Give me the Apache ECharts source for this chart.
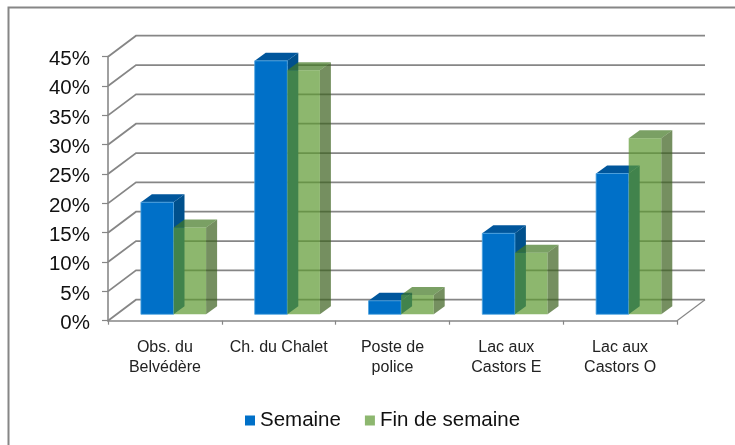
<!DOCTYPE html>
<html>
<head>
<meta charset="utf-8">
<style>html,body{margin:0;padding:0;background:#fff}#c{width:735px;height:445px}</style>
<script src="https://cdn.jsdelivr.net/npm/echarts@6/dist/echarts.min.js"></script>
</head>
<body>
<div id="c"></div>
<script>
const categories = ['Obs. du\nBelvédère', 'Ch. du Chalet', 'Poste de\npolice', 'Lac aux\nCastors E', 'Lac aux\nCastors O'];
const semaine = [19.1, 43.2, 2.3, 13.8, 24.0];
const finDeSemaine = [14.8, 41.6, 3.3, 10.5, 30.0];
const yTicks = [0, 5, 10, 15, 20, 25, 30, 35, 40, 45];

const WALL = { dx: 28, dy: -21 };
const BAR = { w: 32.6, dx: 11, dy: -8, shiftY: -6.4, shiftX: 8.6 };
const GREY = '#868686';

function bar3d(offsetSlots, colors, opacity) {
  return function (params, api) {
    const top = api.coord([api.value(0), api.value(1)]);
    const base = api.coord([api.value(0), 0]);
    const x0 = top[0] + BAR.shiftX + offsetSlots * BAR.w;
    const x1 = x0 + BAR.w;
    const yT = top[1] + BAR.shiftY;
    const yB = base[1] + BAR.shiftY;
    const poly = (pts, fill, stroke) => ({
      type: 'polygon',
      shape: { points: pts },
      style: { fill, stroke: stroke || null, lineWidth: stroke ? 0.8 : 0, opacity }
    });
    return {
      type: 'group',
      children: [
        poly([[x1, yT], [x1 + BAR.dx, yT + BAR.dy], [x1 + BAR.dx, yB + BAR.dy], [x1, yB]], colors.side),
        poly([[x0, yT], [x0 + BAR.dx, yT + BAR.dy], [x1 + BAR.dx, yT + BAR.dy], [x1, yT]], colors.top),
        poly([[x0, yT], [x1, yT], [x1, yB], [x0, yB]], colors.front, colors.edge)
      ]
    };
  };
}

function wallItem(params, api) {
  const cs = params.coordSys;
  const y = api.coord([0, api.value(0)])[1];
  const xL = cs.x, xR = cs.x + cs.width;
  const kids = [{
    type: 'polyline',
    shape: { points: [[xL, y], [xL + WALL.dx, y + WALL.dy], [xR + WALL.dx, y + WALL.dy]] },
    style: { fill: null, stroke: GREY, lineWidth: 1.8 }
  }];
  if (api.value(0) === 0) {
    kids.push({
      type: 'line',
      shape: { x1: xR, y1: y, x2: xR + WALL.dx, y2: y + WALL.dy },
      style: { stroke: GREY, lineWidth: 1.2 }
    });
  }
  return { type: 'group', children: kids };
}

const chart = echarts.init(document.getElementById('c'), null, { renderer: 'canvas' });
chart.setOption({
  animation: false,
  backgroundColor: '#ffffff',
  textStyle: { fontFamily: '"Liberation Sans", Arial, sans-serif' },
  graphic: [{
    type: 'rect',
    shape: { x: 8.5, y: 7.5, width: 800, height: 500 },
    style: { fill: null, stroke: GREY, lineWidth: 2 },
    silent: true, z: 0
  }],
  grid: { left: 108, right: 58, top: 56.7, height: 264 },
  legend: {
    left: 240, top: 405, itemWidth: 10, itemHeight: 10, itemGap: 24,
    textStyle: { fontSize: 20.5, color: '#111', fontFamily: '"Liberation Sans", Arial, sans-serif' },
    data: [
      { name: 'Semaine', icon: 'rect', itemStyle: { color: '#0070c8' } },
      { name: 'Fin de semaine', icon: 'rect', itemStyle: { color: '#8db76f' } }
    ]
  },
  xAxis: {
    type: 'category',
    data: categories,
    axisLine: { show: true, lineStyle: { color: GREY, width: 1.6 } },
    axisTick: { show: true, length: 4, lineStyle: { color: GREY, width: 1.2 } },
    axisLabel: { fontSize: 16, color: '#222', lineHeight: 20, margin: 17, interval: 0 },
    splitLine: { show: false }
  },
  yAxis: {
    type: 'value', min: 0, max: 45, interval: 5,
    axisLine: { show: true, lineStyle: { color: '#a0a0a0', width: 2 } },
    axisTick: { show: true, length: 6, lineStyle: { color: GREY, width: 1.2 } },
    axisLabel: { formatter: '{value}%', fontSize: 20.5, color: '#111', margin: 18, verticalAlign: 'top', lineHeight: 5 },
    splitLine: { show: false }
  },
  series: [
    {
      type: 'custom', name: 'walls', silent: true, z: 1,
      coordinateSystem: 'cartesian2d',
      data: yTicks.map(v => [v]),
      encode: { y: 0 },
      renderItem: wallItem
    },
    {
      type: 'custom', name: 'Semaine', z: 2,
      itemStyle: { color: '#0070c8' },
      data: semaine.map((v, i) => [i, v]),
      encode: { x: 0, y: 1 },
      renderItem: bar3d(-1, { front: '#0070c8', side: '#00508c', top: '#00569c', edge: '#4fa3e0' }, 1)
    },
    {
      type: 'custom', name: 'Fin de semaine', z: 3,
      itemStyle: { color: '#8db76f' },
      data: finDeSemaine.map((v, i) => [i, v]),
      encode: { x: 0, y: 1 },
      renderItem: bar3d(0, { front: '#5c9831', side: '#3a601d', top: '#417722', edge: null }, 0.7)
    }
  ]
});
</script>
</body>
</html>
